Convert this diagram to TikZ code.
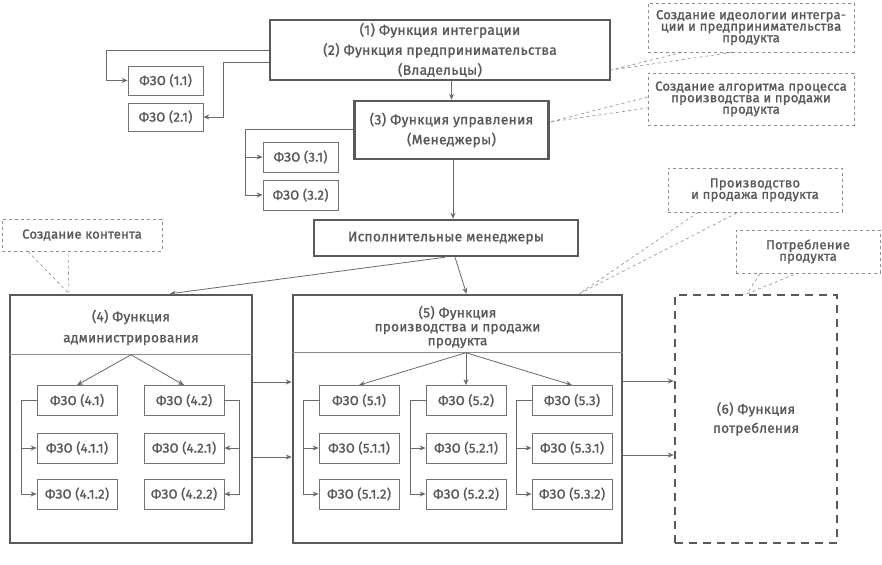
\documentclass[tikz,border=0pt]{standalone}
\usepackage{fontspec}
\setmainfont{Fira Sans}[FakeBold=1.4, LetterSpace=2]
\usetikzlibrary{arrows.meta}
\definecolor{txtgray}{HTML}{585858}
\definecolor{boxgray}{HTML}{5A5A5A}
\definecolor{linegray}{HTML}{6A6A6A}
\definecolor{dashgray}{HTML}{8C8C8C}
\tikzset{
  base_box/.style = {align=center, inner sep=0pt, text=txtgray,
    font=\fontsize{13}{15}\selectfont},
  func_box/.style = {base_box, rectangle, draw=boxgray,
    line width=2.5pt},% main function box
  fzo_box/.style = {base_box, rectangle, draw=boxgray!85,
    line width=0.8pt, minimum width=80pt, minimum height=30pt},% small box
  note_box/.style = {base_box, rectangle, draw=dashgray, dashed,
    line width=0.8pt, font=\fontsize{13}{11.5}\selectfont},% callout
  note_line/.style = {draw=dashgray, dashed, line width=0.6pt},
  link/.style = {draw=linegray, line width=0.8pt,
    -{Stealth[length=6pt,width=5pt]}}
}
\begin{document}
\begin{tikzpicture}[x=1pt, y=-1pt]
\useasboundingbox (0,0) rectangle (882,564);

% owners and managers
\node[func_box, minimum width=340pt, minimum height=60pt, font=\fontsize{13.8}{20}\selectfont] (own) at (440,50)
	{(1) Функция интеграции\\(2) Функция предпринимательства\\(Владельцы)};
\node[fzo_box, minimum width=75pt, minimum height=29pt] (f11) at (165.5,80.5) {ФЗО (1.1)};
\node[fzo_box, minimum width=75pt, minimum height=28pt] (f21) at (165.5,117) {ФЗО (2.1)};
\node[func_box, minimum width=194pt, minimum height=58pt, font=\fontsize{13.8}{20}\selectfont] (mgr) at (451.5,130)
	{(3) Функция управления\\(Менеджеры)};
\node[fzo_box, minimum width=75pt] (f31) at (300.5,157) {ФЗО (3.1)};
\node[fzo_box, minimum width=75pt] (f32) at (300.5,195) {ФЗО (3.2)};
\node[func_box, minimum width=264pt, minimum height=36pt, font=\fontsize{13.8}{15}\selectfont] (exe) at (446,238)
	{Исполнительные менеджеры};

% big function blocks
\node[func_box, minimum width=242pt, minimum height=248pt] (adm) at (131,419) {};
\node[base_box, font=\fontsize{13.5}{21}\selectfont] (adm_t) at (131,327.5) {(4) Функция\\администрирования};
\node[func_box, minimum width=329pt, minimum height=248pt] (prd) at (457.5,419) {};
\node[base_box, font=\fontsize{13.5}{14}\selectfont] (prd_t) at (457.5,327) {(5) Функция\\производства и продажи\\продукта};
\node[func_box, dash pattern=on 8pt off 6pt, minimum width=162pt, minimum height=248pt, font=\fontsize{13.5}{19}\selectfont] (con) at (756,419)
	{(6) Функция\\потребления};
\draw[boxgray!70, line width=0.8pt] ([yshift=-61pt]adm.north west) -- ([yshift=-61pt]adm.north east);
\draw[boxgray!70, line width=0.8pt] ([yshift=-59pt]prd.north west) -- ([yshift=-59pt]prd.north east);
\coordinate (h4) at ([yshift=-61pt]adm.north);
\coordinate (h5) at ([xshift=8.5pt, yshift=-59pt]prd.north);

% small boxes of (4)
\node[fzo_box] (f41)  at (77,400.5) {ФЗО (4.1)};
\node[fzo_box] (f411) at (77,448)   {ФЗО (4.1.1)};
\node[fzo_box] (f412) at (77,494)   {ФЗО (4.1.2)};
\node[fzo_box] (f42)  at (184,400.5) {ФЗО (4.2)};
\node[fzo_box] (f421) at (184,448)   {ФЗО (4.2.1)};
\node[fzo_box] (f422) at (184,494)   {ФЗО (4.2.2)};

% small boxes of (5)
\foreach \c/\x in {1/359, 2/466, 3/572} {
	\node[fzo_box] (f5\c)   at (\x,400.5) {ФЗО (5.\c)};
	\node[fzo_box] (f5\c1)  at (\x,448)   {ФЗО (5.\c.1)};
	\node[fzo_box] (f5\c2)  at (\x,494)   {ФЗО (5.\c.2)};
	\draw[link] (f5\c.west) -- ++(-15,0) |- (f5\c1.west);
	\draw[link] (f5\c.west) -- ++(-15,0) |- (f5\c2.west);
	\draw[link] (h5) -- (f5\c.north);
}

% callouts
\node[note_box, minimum width=206pt, minimum height=49pt] (n1) at (751,27.5)
	{Создание идеологии интегра-\\ции и предпринимательства\\продукта};
\node[note_box, minimum width=206pt, minimum height=52pt] (n2) at (751,99)
	{Создание алгоритма процесса\\производства и продажи\\продукта};
\node[note_box, minimum width=160pt, minimum height=32pt] (n3) at (82,235) {Создание контента};
\node[note_box, minimum width=174pt, minimum height=44pt] (n4) at (755,190) {Производство\\и продажа продукта};
\node[note_box, minimum width=144pt, minimum height=43pt] (n5) at (808,251.5) {Потребление\\продукта};

\draw[note_line] ([xshift=-69pt]n1.south) -- ([yshift=-20pt]own.east) -- ([xshift=-19pt]n1.south);
\draw[note_line] ([yshift=2pt]n2.west) -- ([yshift=8pt]mgr.east) -- ([yshift=-9pt]n2.west);
\draw[note_line] ([xshift=-54pt]n3.south) -- ([xshift=-62pt]adm.north) -- ([xshift=-14pt]n3.south);
\draw[note_line] ([xshift=-57pt]n4.south) -- ([xshift=-44pt]prd.north east) -- ([xshift=-17pt]n4.south);
\draw[note_line] ([xshift=-48pt]n5.south) -- ([xshift=-9pt]con.north) -- ([xshift=-11pt]n5.south);

% connectors
\draw[link] (own.west) -- ++(-162,0) |- (f11.west);
\draw[link] ([yshift=-12pt]own.west) -- ++(-45,0) |- (f21.east);
\draw[link] (own.south -| mgr.north) -- (mgr.north);
\draw[link] ([yshift=1pt]mgr.west) -- ++(-108,0) |- (f31.west);
\draw[link] ([yshift=1pt]mgr.west) -- ++(-108,0) |- (f32.west);
\draw[link] ([xshift=1.5pt]mgr.south) -- ([xshift=1.5pt]mgr.south |- exe.north);
\draw[link] ([xshift=-1pt]exe.south) -- ([xshift=39pt]adm.north);
\draw[link] ([xshift=9pt]exe.south) -- ([xshift=9pt]prd.north);
\draw[link] (h4) -- (f41.north);
\draw[link] (h4) -- (f42.north);
\draw[link] (f41.west) -- ++(-15,0) |- (f411.west);
\draw[link] (f41.west) -- ++(-15,0) |- (f412.west);
\draw[link] (f42.east) -- ++(15,0) |- (f421.east);
\draw[link] (f42.east) -- ++(15,0) |- (f422.east);
\draw[link] ([yshift=37pt]adm.east) -- ([yshift=37pt]prd.west);
\draw[link] ([yshift=-38pt]adm.east) -- ([yshift=-38pt]prd.west);
\draw[link] ([yshift=38pt]prd.east) -- ([yshift=38pt]con.west);
\draw[link] ([yshift=-36pt]prd.east) -- ([yshift=-36pt]con.west);
\end{tikzpicture}
\end{document}
